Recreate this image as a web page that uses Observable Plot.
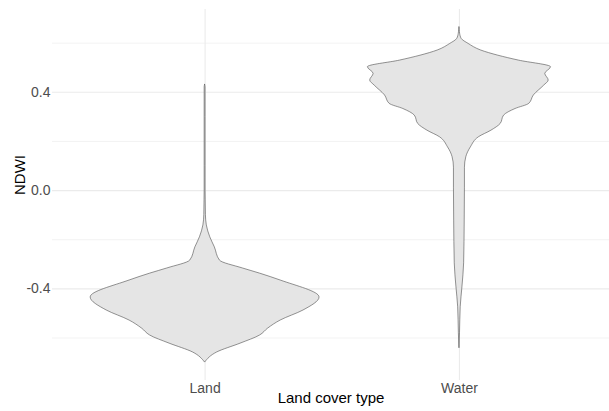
<!DOCTYPE html>
<html>
<head>
<meta charset="utf-8">
<script src="https://cdn.jsdelivr.net/npm/d3@7"></script>
<script src="https://cdn.jsdelivr.net/npm/@observablehq/plot@0.6"></script>
<style>
  html, body { margin: 0; padding: 0; background: #fff; }
  svg { display: block; }
</style>
</head>
<body>
<div id="chart"></div>
<script>
// Land cover categories, placed at x = 1, 2 on the band axis
const coverTypes = ["Land", "Water"];

// Violin outlines: NDWI level and the relative half-width of the
// density at that level (1 = widest point of the widest violin)
const landNdwi  = [0.43, 0.42, 0.30, 0.10, 0.00, -0.04, -0.10, -0.142, -0.19, -0.231, -0.285, -0.317, -0.338, -0.366, -0.435, -0.488, -0.529, -0.562, -0.59, -0.623, -0.659, -0.70];
const landWidth = [0.0, 0.004, 0.004, 0.004, 0.004, 0.005, 0.007, 0.015, 0.045, 0.085, 0.13, 0.33, 0.48, 0.66, 1.0, 0.86, 0.66, 0.55, 0.48, 0.31, 0.105, 0.0];

const waterNdwi  = [0.664, 0.645, 0.638, 0.617, 0.597, 0.570, 0.549, 0.529, 0.502, 0.475, 0.448, 0.427, 0.387, 0.353, 0.332, 0.305, 0.271, 0.244, 0.217, 0.176, 0.136, 0.093, 0.012, -0.122, -0.296, -0.394, -0.475, -0.581, -0.642];
const waterWidth = [0.0, 0.004, 0.006, 0.02, 0.08, 0.19, 0.34, 0.52, 0.80, 0.75, 0.78, 0.74, 0.65, 0.61, 0.49, 0.39, 0.36, 0.28, 0.17, 0.10, 0.06, 0.048, 0.048, 0.046, 0.041, 0.026, 0.011, 0.005, 0.0];

// Axis ticks and grid levels
const yMajorTicks = [-0.4, 0.0, 0.4];
const yMinorTicks = [-0.6, -0.2, 0.2, 0.6];
const xTickPositions = [1, 2];

const halfSpan = 0.45; // full violin width of 0.9 band units

const rows = [];
landNdwi.forEach((v, i) => rows.push({type: "Land", pos: 1, ndwi: v, w: landWidth[i]}));
waterNdwi.forEach((v, i) => rows.push({type: "Water", pos: 2, ndwi: v, w: waterWidth[i]}));

const font = "'Liberation Sans', Arial, Helvetica, sans-serif";

const chart = Plot.plot({
  width: 609,
  height: 411,
  marginLeft: 52,
  marginRight: 0,
  marginTop: 9,
  marginBottom: 31,
  style: {fontFamily: font, background: "#ffffff", overflow: "visible"},
  x: {domain: [0.4, 2.59], axis: null},
  y: {domain: [-0.773, 0.737], axis: null},
  marks: [
    // panel grid
    Plot.ruleY(yMinorTicks, {stroke: "#ebebeb", strokeWidth: 0.6}),
    Plot.ruleY(yMajorTicks, {stroke: "#ebebeb", strokeWidth: 1.1}),
    Plot.ruleX(xTickPositions, {stroke: "#ebebeb", strokeWidth: 1.1}),
    // violins
    Plot.areaX(rows, {
      y: "ndwi",
      x1: d => d.pos - d.w * halfSpan,
      x2: d => d.pos + d.w * halfSpan,
      z: "type",
      fill: "#e5e5e5",
      stroke: "#4d4d4d",
      strokeWidth: 0.6,
      curve: "monotone-y"
    }),
    // axes
    Plot.axisY(yMajorTicks, {
      tickSize: 0, tickPadding: 2, fontSize: 14, fill: "#4d4d4d",
      tickFormat: d => d.toFixed(1), label: null
    }),
    Plot.axisX(xTickPositions, {
      tickSize: 0, tickPadding: 3, fontSize: 14, fill: "#4d4d4d",
      tickFormat: d => coverTypes[d - 1], label: null
    }),
    // axis titles
    Plot.text(["Land cover type"], {
      text: d => d, frameAnchor: "bottom", dy: 22, fontSize: 15, fill: "#000"
    }),
    Plot.text(["NDWI"], {
      text: d => d, frameAnchor: "left", dx: -32, rotate: -90, fontSize: 15, fill: "#000"
    })
  ]
});

document.getElementById("chart").appendChild(chart);
</script>
</body>
</html>
